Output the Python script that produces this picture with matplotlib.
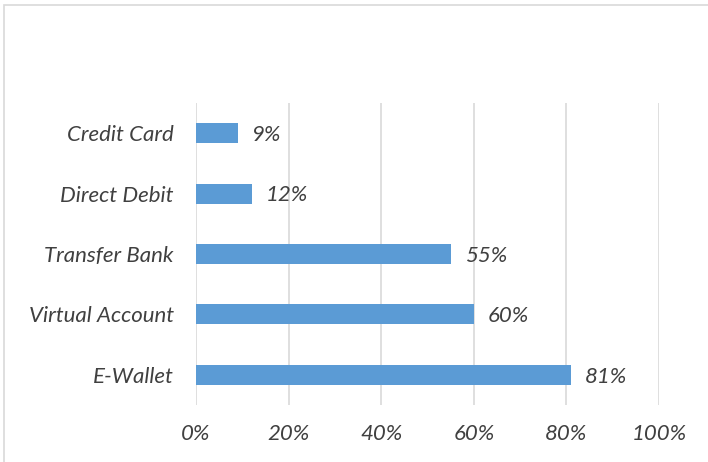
import matplotlib.pyplot as plt
from matplotlib.patches import Rectangle

# data
methods = ['E-Wallet', 'Virtual Account', 'Transfer Bank', 'Direct Debit', 'Credit Card']
shares = [81, 60, 55, 12, 9]
ticks = [0, 20, 40, 60, 80, 100]

text_color = '#404040'
bar_color = '#5b9bd5'
grid_color = '#d9d9d9'

plt.rcParams['font.family'] = ['Lato', 'DejaVu Sans']

fig = plt.figure(figsize=(7.08, 4.62), dpi=100)
ax = fig.add_axes([196 / 708, 57 / 462, 463 / 708, 302 / 462])

# outer chart border
fig.patches.append(Rectangle((4 / 708, -0.1), 1.1, (457 / 462) + 0.1,
                             transform=fig.transFigure, fill=False,
                             edgecolor=grid_color, linewidth=1.2))

y = range(len(methods))
ax.barh(y, shares, height=0.33, color=bar_color, zorder=3)

for i, v in enumerate(shares):
    ax.text(v + 3, i - 0.03, f'{v}%', va='center', ha='left', fontsize=16,
            style='italic', color=text_color)

ax.set_xlim(0, 100)
ax.set_ylim(-0.5, len(methods) - 0.5)
ax.set_xticks(ticks)
ax.set_xticklabels([f'{t}%' for t in ticks], fontsize=16, style='italic', color=text_color)
ax.set_yticks(list(y))
ax.set_yticklabels(methods, fontsize=16, style='italic', color=text_color)
ax.tick_params(axis='both', length=0)
ax.tick_params(axis='x', pad=14)
ax.tick_params(axis='y', pad=16)
ax.xaxis.grid(True, color=grid_color, linewidth=1.2, zorder=0)
ax.set_axisbelow(True)
for s in ax.spines.values():
    s.set_visible(False)

plt.savefig('out.png', dpi=100)
